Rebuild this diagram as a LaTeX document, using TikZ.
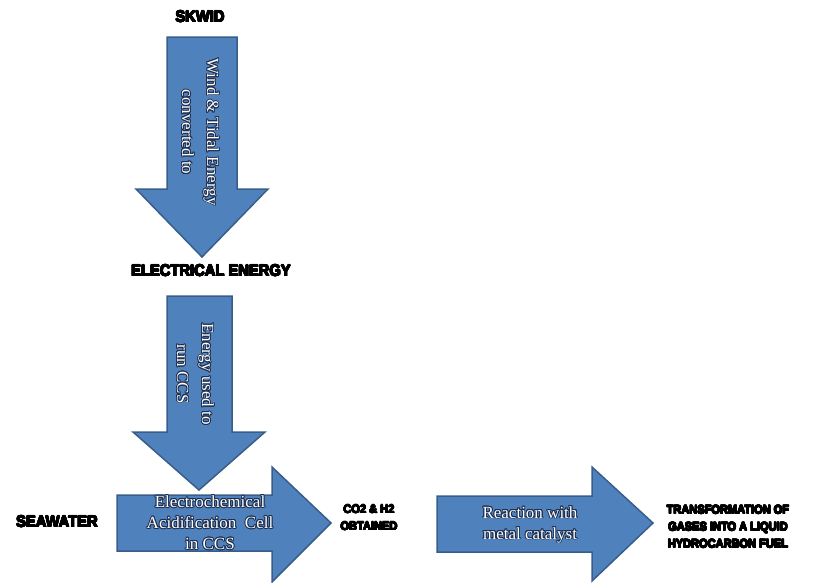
\documentclass[tikz,border=0pt]{standalone}
\usepackage{fontspec}
\setmainfont{Liberation Serif}
\newfontfamily\lab[FakeStretch=0.92]{Liberation Sans}
\usepackage{contour}
\contourlength{0.8pt}
\contournumber{16}
\definecolor{arrfill}{HTML}{4F81BD}
\definecolor{arrdraw}{HTML}{385D8A}
\definecolor{txtline}{HTML}{1F2F4F}
\newcommand{\ct}[1]{\contour{txtline}{#1}}
\newcommand{\hv}[1]{{\contourlength{0.45pt}\contour{black}{#1}}}
\begin{document}
\begin{tikzpicture}[x=1pt,y=-1pt,
  blockarrow/.style={fill=arrfill,draw=arrdraw,line width=1.5pt,line join=miter},
  arrtext/.style={text=white,align=center,font=\fontsize{17}{21}\selectfont,inner sep=0pt},
  vtext/.style={arrtext,rotate=-90,font=\fontsize{17}{25}\selectfont},
  labelA/.style={font=\lab\bfseries\fontsize{16}{18}\selectfont,inner sep=0pt},
  labelB/.style={font=\lab\bfseries\fontsize{12}{17}\selectfont,inner sep=0pt,align=center}]
\useasboundingbox (0,0) rectangle (832,582);
\begin{scope}
\clip (0,0) rectangle (832,582);
% arrow 1
\draw[blockarrow] (167,37) -- (237,37) -- (237,189) -- (268,189) -- (202,257) -- (136,189) -- (167,189) -- cycle;
% arrow 2
\draw[blockarrow] (167,296) -- (232,296) -- (232,432) -- (265,432) -- (199,490) -- (133,432) -- (167,432) -- cycle;
% arrow 3
\draw[blockarrow] (117,495) -- (272,495) -- (272,467) -- (331,523) -- (272,582) -- (272,551) -- (117,551) -- cycle;
% arrow 4
\draw[blockarrow] (437,496) -- (592,496) -- (592,467) -- (653,523) -- (592,581) -- (592,552) -- (437,552) -- cycle;
\end{scope}
% arrow texts
\node[vtext] (t1) at (200,132) {\ct{Wind \& Tidal Energy}\\\ct{converted to}};
\node[vtext] (t2) at (195,374) {\ct{Energy used to}\\\ct{run CCS}};
\node[arrtext] (t3) at (210,523) {\ct{Electrochemical}\\\ct{Acidification~~Cell}\\\ct{in CCS}};
\node[arrtext] (t4) at (530,525) {\ct{Reaction with}\\\ct{metal catalyst}};
% labels
\node[labelA] (skwid) at (200,17) {\hv{SKWID}};
\node[labelA] (elec) at (211,271) {\hv{ELECTRICAL ENERGY}};
\node[labelA] (sea) at (57,522) {\hv{SEAWATER}};
\node[labelB] (co2) at (369,518) {\hv{CO2 \& H2}\\\hv{OBTAINED}};
\node[labelB] (fuel) at (728,527) {\hv{TRANSFORMATION OF}\\\hv{GASES INTO A LIQUID}\\\hv{HYDROCARBON FUEL}};
\end{tikzpicture}
\end{document}
